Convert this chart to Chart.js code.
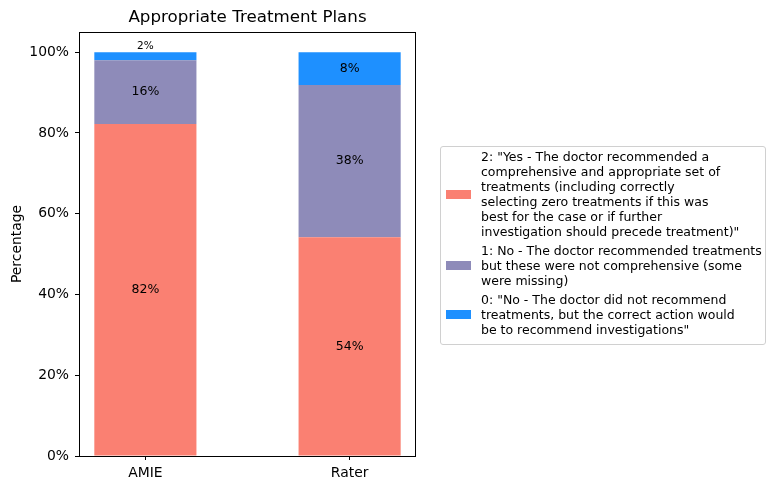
<!DOCTYPE html>
<html>
<head>
<meta charset="utf-8">
<script src="https://cdn.jsdelivr.net/npm/chart.js@4"></script>
<style>
  html, body { margin: 0; padding: 0; background: #fff; }
  #wrap { position: relative; width: 775px; height: 490px; }
  #legend {
    position: absolute; left: 440px; top: 146px; width: 324px; height: 195px;
    border: 1px solid #d0d0d0; border-radius: 3px; box-sizing: content-box;
    font-family: "DejaVu Sans", sans-serif; font-size: 12.5px; line-height: 15px; color: #000;
    padding: 2px 0 0 0;
  }
  .entry { display: flex; align-items: center; margin-bottom: 4px; }
  .sw { width: 25px; height: 9px; margin-left: 5px; margin-right: 10px; flex: none; }
  .txt div { white-space: nowrap; }
</style>
</head>
<body>
<div id="wrap">
  <canvas id="c" width="775" height="490"></canvas>
  <div id="legend"></div>
</div>
<script>
const categories = ["AMIE", "Rater"];
const seriesNames = [
  '2: "Yes - The doctor recommended a comprehensive and appropriate set of treatments (including correctly selecting zero treatments if this was best for the case or if further investigation should precede treatment)"',
  '1: No - The doctor recommended treatments but these were not comprehensive (some were missing)',
  '0: "No - The doctor did not recommend treatments, but the correct action would be to recommend investigations"'
];
const legendLines = [
  ['2: "Yes - The doctor recommended a', 'comprehensive and appropriate set of', 'treatments (including correctly', 'selecting zero treatments if this was', 'best for the case or if further', 'investigation should precede treatment)"'],
  ['1: No - The doctor recommended treatments', 'but these were not comprehensive (some', 'were missing)'],
  ['0: "No - The doctor did not recommend', 'treatments, but the correct action would', 'be to recommend investigations"']
];
const series2 = [82.2, 54.2];
const series1 = [15.8, 37.7];
const series0 = [2.0, 8.1];
const seriesLabels2 = ["82%", "54%"];
const seriesLabels1 = ["16%", "38%"];
const seriesLabels0 = ["2%", "8%"];
const yTicks = [0, 20, 40, 60, 80, 100];
const colors = ["#FA8072", "#8E8BB9", "#1E90FF"];

const seriesValues = [series2, series1, series0];
const seriesTexts = [seriesLabels2, seriesLabels1, seriesLabels0];

// HTML legend (real text)
const leg = document.getElementById('legend');
legendLines.forEach((lines, i) => {
  const e = document.createElement('div'); e.className = 'entry';
  const sw = document.createElement('div'); sw.className = 'sw'; sw.style.background = colors[i];
  const t = document.createElement('div'); t.className = 'txt'; t.title = seriesNames[i];
  lines.forEach(l => { const d = document.createElement('div'); d.textContent = l; t.appendChild(d); });
  e.appendChild(sw); e.appendChild(t); leg.appendChild(e);
});

const FONT = "'DejaVu Sans', sans-serif";

const framePlugin = {
  id: 'frame',
  afterDraw(chart) {
    const {ctx, chartArea: a} = chart;
    ctx.save();
    ctx.strokeStyle = '#000'; ctx.lineWidth = 1;
    ctx.strokeRect(Math.round(a.left) + 0.5, Math.round(a.top) + 0.5, Math.round(a.right - a.left) - 1, Math.round(a.bottom - a.top));
    ctx.fillStyle = '#000';
    ctx.font = "16.7px " + FONT;
    ctx.textAlign = 'center'; ctx.textBaseline = 'middle';
    ctx.fillText('Appropriate Treatment Plans', (a.left + a.right) / 2, 18);
    ctx.restore();
  }
};

const labelPlugin = {
  id: 'barLabels',
  afterDatasetsDraw(chart) {
    const {ctx} = chart;
    ctx.save();
    ctx.fillStyle = '#000';
    ctx.textAlign = 'center'; ctx.textBaseline = 'middle';
    chart.data.datasets.forEach((ds, di) => {
      const meta = chart.getDatasetMeta(di);
      meta.data.forEach((el, i) => {
        const v = seriesValues[di][i];
        const txt = seriesTexts[di][i];
        const top = Math.min(el.y, el.base), bot = Math.max(el.y, el.base);
        if (v < 5) {
          ctx.font = "10.5px " + FONT;
          ctx.fillText(txt, el.x, top - 6);
        } else {
          ctx.font = "12.5px " + FONT;
          ctx.fillText(txt, el.x, (top + bot) / 2);
        }
      });
    });
    ctx.restore();
  }
};

new Chart(document.getElementById('c'), {
  type: 'bar',
  data: {
    datasets: seriesValues.map((vals, di) => ({
      label: seriesNames[di],
      data: vals.map((v, i) => ({x: i, y: v})),
      backgroundColor: colors[di],
      borderWidth: 0,
      barPercentage: 0.5,
      categoryPercentage: 1.0
    }))
  },
  options: {
    responsive: false,
    animation: false,
    devicePixelRatio: 1,
    layout: { padding: { top: 32, right: 359, left: 0, bottom: 0 } },
    plugins: { legend: { display: false }, title: { display: false }, tooltip: { enabled: false } },
    scales: {
      x: {
        type: 'linear', stacked: true, min: -0.325, max: 1.325, offset: false,
        afterBuildTicks: s => { s.ticks = categories.map((c, i) => ({value: i})); },
        afterFit: s => { s.height = 34; },
        border: { display: false },
        grid: { display: true, offset: false, drawOnChartArea: false, drawTicks: true, tickLength: 4, color: '#000' },
        ticks: { color: '#000', font: { family: FONT, size: 13.9 }, padding: 5, maxRotation: 0, autoSkip: false,
                 callback: v => categories[v] }
      },
      y: {
        type: 'linear', stacked: true, min: 0, max: 105,
        afterBuildTicks: s => { s.ticks = yTicks.map(v => ({value: v})); },
        afterFit: s => { s.width = 79; },
        border: { display: false },
        grid: { display: true, drawOnChartArea: false, drawTicks: true, tickLength: 4, color: '#000' },
        ticks: { color: '#000', font: { family: FONT, size: 13.9 }, padding: 6, callback: v => v + '%' },
        title: { display: true, text: 'Percentage', color: '#000', font: { family: FONT, size: 13.9 }, padding: { top: 9, bottom: 0 } }
      }
    }
  },
  plugins: [framePlugin, labelPlugin]
});
</script>
</body>
</html>
